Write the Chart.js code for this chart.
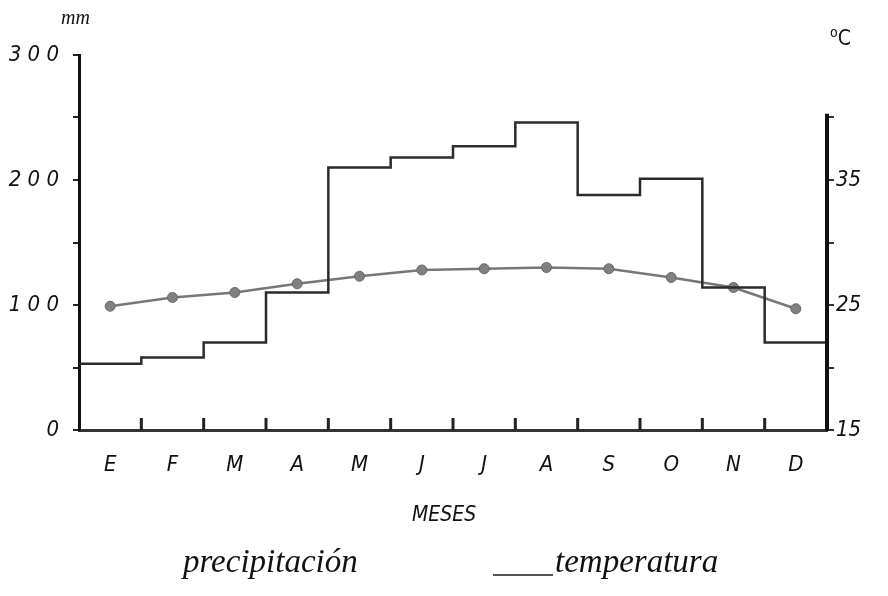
<html>
<head>
<meta charset="utf-8">
<script src="https://cdn.jsdelivr.net/npm/chart.js"></script>
<style>
    body { margin: 0; background: #fff; }
    #wrap { position: relative; width: 888px; height: 596px; }
    .lbl { position: absolute; font-style: italic; color: #111; white-space: nowrap; }
    .hand { font-family: 'Liberation Serif', 'DejaVu Serif', serif; font-size: 33px; }
</style>
</head>
<body>
<div id="wrap">
    <canvas id="chart" width="888" height="596"></canvas>
    <div class="lbl" style="left:61px;top:6px;font-family:'Liberation Serif','DejaVu Serif';font-size:20px;">mm</div>
    <div class="lbl" style="left:830px;top:24px;font-family:'DejaVu Sans Condensed','DejaVu Sans';font-size:21px;font-style:normal;"><sup style="font-size:14px">o</sup>C</div>
    <div class="lbl hand" style="left:183px;top:543px;">precipitación</div>
    <div style="position:absolute;left:493px;top:574px;width:60px;border-top:2px solid #555;"></div>
    <div class="lbl hand" style="left:555px;top:543px;">temperatura</div>
    <div class="lbl" style="left:412px;top:502px;font-family:'DejaVu Sans Condensed','DejaVu Sans';font-size:21px;">MESES</div>
</div>
<script>
    // valores
    const months = ['E', 'F', 'M', 'A', 'M', 'J', 'J', 'A', 'S', 'O', 'N', 'D'];
    const precipitation = [53, 58, 70, 110, 210, 218, 227, 246, 188, 201, 114, 70];
    const temperature = [24.9, 25.6, 26.0, 26.7, 27.3, 27.8, 27.9, 28.0, 27.9, 27.2, 26.4, 24.7];
    const mmLabels = [0, 100, 200, 300];
    const tempLabels = [15, 25, 35];

    const axisFont = { family: "'DejaVu Sans Condensed', 'DejaVu Sans'", size: 22, style: 'italic' };

    // step line: each month holds its value until the next month
    const precipPoints = precipitation.map((v, i) => ({ x: i, y: v }));
    precipPoints.push({ x: months.length, y: precipitation[precipitation.length - 1] });
    const tempPoints = temperature.map((v, i) => ({ x: i + 0.5, y: v }));

    const extras = {
        id: 'extras',
        afterDatasetsDraw(chart) {
            const ctx = chart.ctx;
            const x = chart.scales.x;
            const y2 = chart.scales.y2;
            const base = chart.chartArea.bottom;
            ctx.save();
            ctx.strokeStyle = '#222';
            ctx.lineWidth = 3;
            for (let i = 1; i < months.length; i++) {
                const px = x.getPixelForValue(i);
                ctx.beginPath();
                ctx.moveTo(px, base);
                ctx.lineTo(px, base - 12);
                ctx.stroke();
            }
            // right axis only reaches 40 C
            ctx.lineWidth = 4;
            ctx.strokeStyle = '#111';
            ctx.beginPath();
            ctx.moveTo(chart.chartArea.right, base + 1);
            ctx.lineTo(chart.chartArea.right, y2.getPixelForValue(40.3));
            ctx.stroke();
            ctx.restore();
        }
    };

    new Chart(document.getElementById('chart'), {
        type: 'line',
        data: {
            datasets: [{
                label: 'precipitación',
                data: precipPoints,
                yAxisID: 'y',
                stepped: 'before',
                borderColor: '#2b2b2b',
                borderWidth: 2.5,
                pointRadius: 0,
                fill: false
            }, {
                label: 'temperatura',
                data: tempPoints,
                yAxisID: 'y2',
                borderColor: '#777',
                borderWidth: 2.5,
                pointRadius: 5,
                pointBackgroundColor: '#808080',
                pointBorderColor: '#666',
                pointBorderWidth: 1,
                fill: false
            }]
        },
        options: {
            responsive: false,
            animation: false,
            devicePixelRatio: 1,
            layout: { padding: { top: 55, left: 0, right: 0, bottom: 56 } },
            plugins: { legend: { display: false }, tooltip: { enabled: false } },
            scales: {
                x: {
                    type: 'linear',
                    min: 0,
                    max: 12,
                    afterBuildTicks: (axis) => { axis.ticks = months.map((m, i) => ({ value: i + 0.5 })); },
                    afterFit: (scale) => { scale.height = 110; },
                    grid: { display: false, drawTicks: false },
                    border: { display: true, width: 3, color: '#333' },
                    ticks: {
                        padding: 22,
                        color: '#111',
                        font: axisFont,
                        maxRotation: 0,
                        autoSkip: false,
                        callback: (v, i) => months[i]
                    }
                },
                y: {
                    position: 'left',
                    min: 0,
                    max: 300,
                    afterFit: (scale) => { scale.width = 79; },
                    grid: { drawOnChartArea: false, tickLength: 6, color: '#222', lineWidth: 2 },
                    border: { display: true, width: 3, color: '#111' },
                    ticks: {
                        stepSize: 50,
                        padding: 14,
                        color: '#111',
                        font: axisFont,
                        callback: (v) => mmLabels.includes(v) ? String(v).split('').join(' ') : ''
                    }
                },
                y2: {
                    position: 'right',
                    min: 15,
                    max: 45,
                    afterBuildTicks: (axis) => { axis.ticks = axis.ticks.filter(t => t.value <= 40); },
                    afterFit: (scale) => { scale.width = 61; },
                    grid: { drawOnChartArea: false, tickLength: 7, color: '#333', lineWidth: 2 },
                    border: { display: false },
                    ticks: {
                        stepSize: 5,
                        padding: 2,
                        color: '#111',
                        font: axisFont,
                        callback: (v) => tempLabels.includes(v) ? String(v) : ''
                    }
                }
            }
        },
        plugins: [extras]
    });
</script>
</body>
</html>
